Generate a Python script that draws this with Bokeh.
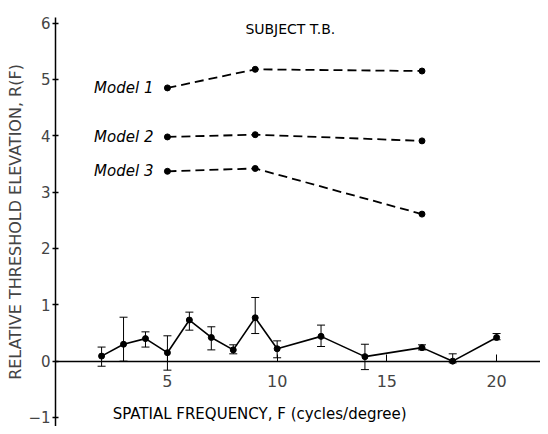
from bokeh.plotting import figure
from bokeh.models import LinearAxis, FixedTicker, Whisker, ColumnDataSource, Label, Range1d, TeeHead
from bokeh.embed import file_html
from bokeh.resources import INLINE

# Observed relative threshold elevation (Subject T.B.)
freq = [2, 3, 4, 5, 6, 7, 8, 9, 10, 12, 14, 16.6, 18, 20]
r_obs = [0.09, 0.30, 0.40, 0.15, 0.73, 0.42, 0.20, 0.77, 0.22, 0.44, 0.08, 0.24, 0.0, 0.42]
r_upper = [0.25, 0.78, 0.52, 0.45, 0.87, 0.61, 0.29, 1.13, 0.36, 0.64, 0.30, 0.29, 0.13, 0.49]
r_lower = [-0.09, 0.0, 0.25, -0.16, 0.55, 0.20, 0.13, 0.49, 0.06, 0.26, -0.15, 0.20, -0.03, 0.38]

# Model predictions
model_freq = [5, 9, 16.6]
model1 = [4.85, 5.18, 5.15]
model2 = [3.98, 4.02, 3.91]
model3 = [3.37, 3.42, 2.61]
model_names = ["Model 1", "Model 2", "Model 3"]

x_ticks = [5, 10, 15, 20]
y_ticks = [-1, 0, 1, 2, 3, 4, 5, 6]
title_text = "SUBJECT T.B."
x_label = "SPATIAL FREQUENCY, F (cycles/degree)"
y_label = "RELATIVE THRESHOLD ELEVATION, R(F)"

FONT = "DejaVu Sans"

p = figure(width=540, height=426, output_backend="svg", toolbar_location=None,
           x_range=Range1d(-0.1, 22.0), y_range=Range1d(-1.16, 6.1),
           x_axis_location=None, min_border_left=55, min_border_right=0,
           min_border_top=17, min_border_bottom=0)
p.outline_line_color = None
p.grid.visible = False
p.background_fill_color = "white"

# y axis
ya = p.yaxis[0]
ya.ticker = FixedTicker(ticks=y_ticks)
ya.axis_label = y_label
ya.axis_label_text_font = FONT
ya.axis_label_text_font_style = "normal"
ya.axis_label_text_font_size = "16px"
ya.axis_label_standoff = 0
ya.major_label_text_font = FONT
ya.major_label_text_font_size = "15px"
ya.major_label_standoff = 2
ya.major_tick_in = 3
ya.major_tick_out = 3
ya.minor_tick_line_color = None
ya.axis_line_width = 1.5
ya.major_tick_line_width = 1.5

# x axis at y = 0
xa = LinearAxis(fixed_location=0, ticker=FixedTicker(ticks=x_ticks))
xa.major_label_text_font = FONT
xa.major_label_text_font_size = "16px"
xa.major_label_standoff = 14
xa.major_tick_in = 7
xa.major_tick_out = 0
xa.minor_tick_line_color = None
xa.axis_line_width = 1.5
p.add_layout(xa, "below")

# observed data with error bars
src = ColumnDataSource(dict(x=freq, y=r_obs, up=r_upper, lo=r_lower))
w = Whisker(source=src, base="x", upper="up", lower="lo", line_color="black", line_width=1)
w.upper_head = TeeHead(size=8, line_width=1)
w.lower_head = TeeHead(size=8, line_width=1)
p.add_layout(w)
p.line("x", "y", source=src, line_color="black", line_width=1.6)
p.scatter("x", "y", source=src, size=6, color="black")

# models
for name, vals in zip(model_names, [model1, model2, model3]):
    p.line(model_freq, vals, line_color="black", line_width=1.8, line_dash="9 5")
    p.scatter(model_freq, vals, size=6, color="black")
    p.add_layout(Label(x=model_freq[0], y=vals[0], text=name, x_offset=-14,
                       text_align="right", text_baseline="middle",
                       text_font=FONT, text_font_style="italic",
                       text_font_size="15px", text_color="black"))

# title inside plot
p.add_layout(Label(x=10.6, y=5.90, text=title_text, text_align="center",
                   text_baseline="middle", text_font=FONT, text_font_size="14px",
                   text_color="black"))

# x label
p.add_layout(Label(x=9.2, y=-0.93, text=x_label, text_align="center",
                   text_baseline="middle", text_font=FONT, text_font_size="15px",
                   text_color="black"))

open("out.html", "w").write(file_html(p, INLINE))
